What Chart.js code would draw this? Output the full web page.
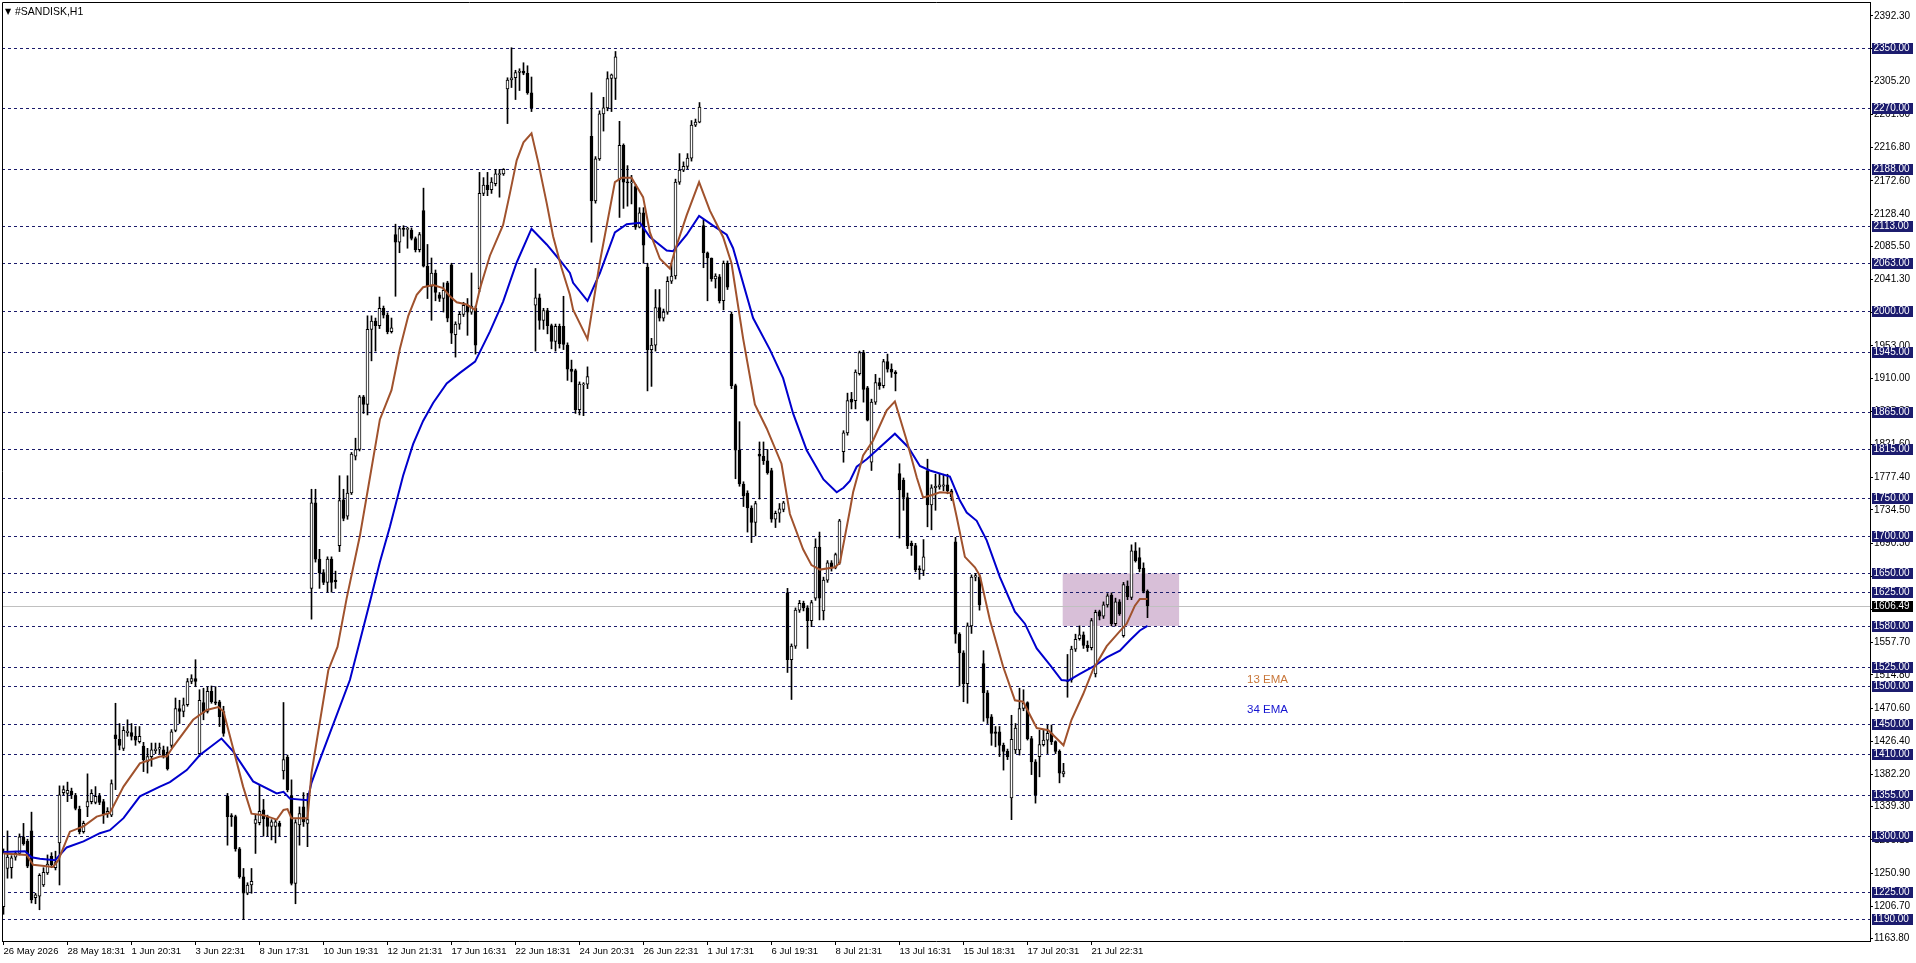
<!DOCTYPE html>
<html>
<head>
<meta charset="utf-8">
<title>#SANDISK,H1</title>
<script src="https://cdn.jsdelivr.net/npm/chart.js@4.4.1/dist/chart.umd.min.js"></script>
<style>
  html, body { margin: 0; padding: 0; background: #fff; }
  canvas { display: block; }
</style>
</head>
<body>
<canvas id="chart" width="1916" height="963"></canvas>
<script>
const symbolTitle = "#SANDISK,H1";

const openPrices = [
  1206,1257,1258,1272,1277,1299,1293,   1307,1218,1220,1235,1251,1273,1258,
  1291,1358,1357,1360,1354,1336,1306,   1339,1346,1345,1353,1346,1330,1328,
  1435,1429,1417,1438,1438,1433,1426,   1420,1399,1406,1414,1416,1415,1412,
  1421,1441,1470,1466,1475,1506,1510,   1410,1478,1466,1493,1479,1479,1466,
  1353,1327,1326,1283,1246,1224,1235,   1317,1318,1335,1326,1313,1313,1317,
  1387,1405,1353,1237,1315,1339,1317,   1630,1744,1669,1651,1638,1669,1641,
  1687,1748,1726,1757,1806,1815,1885,   1875,1975,1986,1980,2003,1994,1972,
  2101,2091,2109,2108,2107,2096,2081,   2133,2059,2032,2050,2021,2016,2037,
  2061,1968,1982,1995,2007,1998,2003,   2029,2156,2167,2161,2169,2181,2182,
  2295,2307,2310,2317,2319,2316,2290,   2007,2017,1987,2000,1980,1959,1979,
  1979,1954,1922,1920,1868,1901,1902,   2232,2146,2202,2262,2270,2309,2309,
  2174,2220,2171,2170,2165,2111,2130,   2058,1948,1954,2004,1990,1998,2039,
  2046,2171,2187,2192,2203,2247,2251,   2113,2077,2070,2042,2045,2013,2063,
  1995,1900,1814,1769,1757,1737,1718,   1809,1806,1800,1787,1722,1730,1735,
  1624,1535,1553,1601,1610,1604,1587,   1617,1685,1600,1641,1664,1658,1664,
  1812,1837,1882,1880,1916,1944,1897,   1798,1878,1904,1900,1932,1922,1918,
  1783,1774,1751,1690,1687,1656,1654,   1787,1741,1764,1765,1766,1768,1760,
  1692,1569,1544,1503,1580,1645,1645,   1530,1491,1459,1439,1439,1421,1413,
  1351,1415,1415,1470,1478,1430,1399,   1406,1422,1428,1437,1426,1413,1383,
  1506,1508,1549,1563,1568,1554,1551,   1516,1599,1593,1608,1621,1583,1612,
  1567,1633,1618,1680,1671,1657,1626
];
const highPrices = [
  1283,1307,1274,1280,1303,1317,1296,   1332,1224,1250,1258,1275,1278,1280,
  1367,1367,1372,1364,1357,1340,1320,   1383,1362,1366,1357,1349,1338,1375,
  1477,1450,1446,1455,1450,1446,1446,   1425,1417,1424,1424,1424,1420,1419,
  1442,1484,1481,1484,1510,1515,1535,   1495,1497,1499,1500,1499,1481,1473,
  1357,1330,1328,1285,1257,1238,1257,   1328,1368,1349,1328,1322,1322,1320,
  1478,1408,1375,1322,1339,1358,1357,   1762,1762,1682,1655,1672,1672,1653,
  1780,1762,1780,1811,1830,1887,1887,   1993,1993,1990,2018,2006,1997,1990,
  2115,2111,2113,2111,2110,2098,2104,   2163,2088,2070,2054,2024,2037,2039,
  2063,1985,1998,2011,2016,2050,2006,   2184,2177,2184,2177,2188,2188,2189,
  2310,2350,2320,2322,2330,2326,2311,   2056,2022,2003,2003,1982,1982,1982,
  2019,1957,1934,1922,1905,1904,1925,   2290,2205,2266,2284,2318,2315,2345,
  2252,2222,2193,2180,2168,2137,2137,   2063,1963,2028,2028,2002,2045,2063,
  2175,2209,2198,2209,2253,2255,2277,   2121,2078,2070,2049,2048,2066,2066,
  1998,1902,1852,1772,1760,1740,1746,   1825,1825,1815,1790,1733,1743,1746,
  1630,1556,1604,1614,1613,1607,1614,   1696,1705,1645,1667,1667,1677,1722,
  1840,1890,1891,1921,1946,1947,1899,   1882,1915,1910,1935,1942,1929,1920,
  1796,1777,1757,1693,1690,1660,1695,   1802,1768,1782,1783,1782,1782,1762,
  1698,1571,1547,1584,1648,1650,1648,   1547,1494,1462,1446,1446,1424,1416,
  1461,1450,1497,1495,1479,1433,1402,   1441,1441,1448,1448,1427,1415,1397,
  1542,1553,1569,1580,1572,1560,1590,   1601,1601,1612,1623,1624,1617,1615,
  1638,1640,1688,1691,1684,1664,1628
];
const lowPrices = [
  1196,1244,1244,1268,1275,1288,1258,   1211,1210,1202,1233,1249,1258,1255,
  1235,1355,1346,1350,1335,1303,1304,   1326,1343,1343,1342,1317,1325,1326,
  1362,1415,1414,1433,1428,1421,1424,   1386,1384,1393,1410,1410,1404,1388,
  1418,1439,1450,1459,1473,1503,1499,   1406,1455,1464,1477,1475,1446,1433,
  1288,1313,1280,1244,1189,1222,1224,   1277,1315,1300,1300,1295,1291,1300,
  1376,1359,1235,1210,1288,1313,1286,   1589,1665,1630,1635,1625,1625,1630,
  1679,1720,1722,1755,1801,1813,1863,   1861,1933,1946,1976,1990,1969,1970,
  2019,2077,2099,2083,2094,2078,2078,   2058,2016,1987,2013,2012,1998,1985,
  1956,1938,1975,1992,1967,1995,1942,   2025,2153,2153,2156,2166,2151,2180,
  2249,2297,2281,2293,2314,2288,2265,   1946,1975,1975,1969,1949,1946,1950,
  1948,1907,1905,1863,1861,1860,1896,   2091,2143,2200,2239,2266,2265,2281,
  2124,2136,2139,2142,2108,2110,2063,   1893,1899,1946,1986,1986,1995,2036,
  2042,2168,2185,2189,2199,2245,2250,   2057,2013,2039,2030,2010,2001,2028,
  1896,1776,1766,1739,1705,1691,1700,   1749,1795,1782,1718,1711,1718,1732,
  1518,1482,1550,1598,1600,1550,1579,   1614,1588,1588,1638,1653,1656,1662,
  1798,1834,1869,1869,1914,1878,1853,   1787,1875,1895,1897,1918,1911,1893,
  1697,1734,1683,1674,1652,1642,1647,   1712,1708,1734,1762,1760,1756,1747,
  1557,1500,1479,1477,1570,1640,1601,   1453,1450,1421,1419,1406,1388,1402,
  1322,1410,1408,1467,1428,1382,1344,   1379,1420,1410,1422,1410,1371,1379,
  1485,1505,1546,1561,1550,1546,1548,   1512,1588,1590,1605,1580,1580,1594,
  1565,1615,1615,1665,1652,1624,1591
];
const closePrices = [
  1278,1272,1271,1277,1299,1290,1260,   1215,1222,1248,1252,1263,1262,1265,
  1355,1362,1361,1355,1337,1306,1317,   1346,1357,1353,1345,1330,1333,1370,
  1430,1421,1441,1440,1433,1428,1433,   1402,1406,1415,1416,1418,1406,1390,
  1439,1470,1466,1475,1506,1510,1506,   1481,1464,1493,1479,1477,1459,1437,
  1326,1326,1283,1246,1224,1235,1240,   1322,1333,1323,1313,1319,1319,1313,
  1402,1362,1237,1318,1330,1319,1322,   1744,1669,1651,1638,1669,1638,1639,
  1747,1723,1757,1809,1815,1885,1875,   1975,1986,1980,2003,1994,1972,1977,
  2091,2109,2108,2109,2096,2081,2101,   2059,2032,2050,2024,2016,2027,1990,
  1970,1982,1995,2007,1998,2006,1954,   2156,2167,2161,2171,2182,2182,2188,
  2307,2310,2317,2319,2316,2290,2270,   2017,1987,2000,1980,1959,1979,1956,
  1955,1922,1919,1868,1902,1902,1912,   2146,2202,2262,2270,2309,2314,2338,
  2220,2171,2170,2171,2111,2130,2087,   1948,1954,2004,1990,1998,2039,2046,
  2171,2187,2192,2203,2247,2251,2271,   2077,2070,2042,2046,2013,2063,2031,
  1900,1814,1769,1753,1737,1718,1743,   1806,1800,1784,1722,1730,1736,1744,
  1535,1553,1601,1610,1604,1587,1611,   1685,1617,1641,1664,1658,1675,1720,
  1837,1880,1878,1918,1944,1895,1854,   1878,1904,1900,1932,1922,1918,1916,
  1761,1751,1687,1687,1655,1655,1672,   1741,1764,1766,1768,1768,1760,1752,
  1569,1544,1503,1580,1645,1647,1608,   1491,1457,1437,1437,1421,1413,1406,
  1429,1444,1470,1477,1430,1399,1355,   1422,1428,1437,1426,1413,1384,1386,
  1508,1549,1562,1568,1554,1551,1587,   1598,1593,1608,1620,1583,1612,1596,
  1635,1619,1680,1667,1656,1626,1606.49
];

// 13 EMA / 34 EMA, read at bar positions along the curves
const ema13Bars = [0,5.8,7.4,12.4,13.7,16.6,20,23.3,26.6,30,34.1,39.1,40.8,42.4,47.4,50.8,53.7,55,57.4,59.9,62,65,68.3,70,71,72,76,77,81.2,83.5,85.8,89.1,91.2,94.1,97,99.1,101.2,103.3,104.9,107.4,109.9,111.6,113.3,115.8,117.9,119.1,121.6,124.9,126.6,128.3,130,132,133.7,135.8,137.4,139.5,141.6,142.4,146,149.1,152.85,154.5,157,159.9,161.6,164.1,166.6,167.85,170.8,173.9,176.6,179.9,182,184.9,187.85,190.8,194.5,196.6,199.9,202,204.1,207.85,209.1,211.6,212.4,214.9,217.4,220.8,222.85,225.8,228.3,229.9,232,234.1,237,238.3,240.35,242.85,244.1,246.6,249.9,252.85,254.9,258.3,261.2,263.3,265,267,269.9,272.4,275.8,279.1,280.8,282.85,284.1,286];
const ema13Values = [1277,1275,1262,1259,1268,1306,1313,1326,1331,1366,1397,1406,1406,1419,1455,1468,1472,1466,1417,1366,1330,1328,1322,1335,1336,1324,1324,1384,1521,1552,1617,1700,1765,1855,1894,1949,1993,2021,2031,2034,2030,2019,2011,2008,2001,2029,2073,2114,2156,2200,2224,2236,2197,2143,2099,2057,2021,2001,1962,2065,2171,2177,2177,2151,2104,2069,2056,2080,2127,2171,2133,2098,2063,1963,1875,1843,1796,1729,1682,1661,1655,1658,1664,1734,1758,1807,1827,1867,1879,1827,1778,1751,1754,1758,1757,1725,1672,1658,1647,1588,1526,1481,1479,1444,1441,1430,1421,1455,1489,1522,1553,1573,1583,1607,1616,1616];

const ema34Bars = [0,5.4,7,9.1,12.9,15.8,20,24.1,26.6,30,34.1,39.1,41.6,45.8,49.1,54.5,57.4,62.4,68.3,70,71.6,76,77,79.1,86.6,89.1,91.6,94.1,96.6,99.9,102.4,104.9,107.4,110.8,114.1,117.9,121.6,124.9,128.3,132,135.8,139.1,141.6,142.4,146,149.1,152.85,155.8,159.1,161.6,165.8,167.4,170.8,173.9,177.4,180.8,182.4,187.4,191.6,194.9,197.4,200.8,205,208.3,210,211.6,213.3,215.8,222.85,226.2,229.1,231.6,236.6,239.1,240.8,243.3,245.8,249.1,252.85,255.35,258.3,261.6,264.5,266.2,269.1,272.85,275.8,279.1,281.6,284.1,286];
const ema34Values = [1279,1280,1272,1270,1268,1285,1293,1304,1308,1324,1353,1366,1372,1388,1408,1430,1413,1373,1357,1359,1350,1348,1371,1402,1508,1560,1612,1665,1712,1780,1822,1853,1877,1903,1917,1932,1972,2012,2064,2109,2088,2067,2050,2037,2013,2050,2104,2115,2117,2098,2080,2079,2101,2126,2113,2101,2083,1990,1948,1910,1863,1814,1775,1758,1764,1773,1792,1802,1836,1818,1793,1787,1779,1747,1731,1720,1694,1645,1599,1583,1550,1528,1508,1507,1516,1527,1538,1547,1561,1574,1580];

// horizontal levels drawn on the chart, and the current bid
const levelLines = [2350,2270,2188,2113,2063,2000,1945,1865,1815,1750,1700,1650,1625,1580,1525,1500,1450,1410,1355,1300,1225,1190];
const lastPrice = 1606.49;

// price scale labels and time labels (one every 16 bars)
const yTickValues = [2392.3,2348.7,2305.2,2261.0,2216.8,2172.6,2128.4,2085.5,2041.3,1997.1,1953.0,1910.0,1865.8,1821.6,1777.4,1734.5,1690.3,1646.1,1601.9,1557.7,1514.8,1470.6,1426.4,1382.2,1339.3,1295.1,1250.9,1206.7,1163.8];
const xTickBars = [0,16,32,48,64,80,96,112,128,144,160,176,192,208,224,240,256,272];
const xTickLabels = ["26 May 2026","28 May 18:31","1 Jun 20:31","3 Jun 22:31","8 Jun 17:31","10 Jun 19:31","12 Jun 21:31","17 Jun 16:31","22 Jun 18:31","24 Jun 20:31","26 Jun 22:31","1 Jul 17:31","6 Jul 19:31","8 Jul 21:31","13 Jul 16:31","15 Jul 18:31","17 Jul 20:31","21 Jul 22:31"];

// shaded zone (bars / prices)
const zoneBars = [264.8, 293.9];
const zonePrices = [1580, 1650];

const FONT = "'Liberation Sans', Arial, sans-serif";

// background pieces: zone, bid line, dashed levels
const backdrop = {
  id: 'backdrop',
  beforeDatasetsDraw(chart) {
    const { ctx, chartArea: a, scales: { x, y } } = chart;
    ctx.save();
    ctx.beginPath();
    ctx.rect(a.left, a.top, a.right - a.left, a.bottom - a.top);
    ctx.clip();

    const zx0 = x.getPixelForValue(zoneBars[0]);
    const zx1 = x.getPixelForValue(zoneBars[1]);
    const zy0 = y.getPixelForValue(zonePrices[1]);
    const zy1 = y.getPixelForValue(zonePrices[0]);
    ctx.fillStyle = '#D8BFD8';
    ctx.fillRect(zx0, zy0, zx1 - zx0, zy1 - zy0);

    ctx.lineWidth = 1;
    ctx.strokeStyle = '#C0C0C0';
    const yb = Math.round(y.getPixelForValue(lastPrice)) + 0.5;
    ctx.beginPath();
    ctx.moveTo(a.left, yb);
    ctx.lineTo(a.right, yb);
    ctx.stroke();

    ctx.strokeStyle = '#1B1B6B';
    ctx.setLineDash([3, 3]);
    levelLines.forEach(v => {
      const yy = Math.round(y.getPixelForValue(v)) + 0.5;
      ctx.beginPath();
      ctx.moveTo(a.left, yy);
      ctx.lineTo(a.right, yy);
      ctx.stroke();
    });
    ctx.restore();
  },
  afterDraw(chart) {
    const { ctx, chartArea: a, scales: { x, y } } = chart;
    ctx.save();
    // frame (left + top)
    ctx.strokeStyle = '#000';
    ctx.lineWidth = 1;
    ctx.beginPath();
    ctx.moveTo(a.left + 0.5, a.bottom);
    ctx.lineTo(a.left + 0.5, a.top + 0.5);
    ctx.lineTo(a.right, a.top + 0.5);
    ctx.stroke();

    // price tags for the levels and the bid
    ctx.font = '10px ' + FONT;
    ctx.textBaseline = 'middle';
    ctx.textAlign = 'left';
    const tag = (v, bg) => {
      const yy = Math.round(y.getPixelForValue(v));
      ctx.fillStyle = bg;
      ctx.fillRect(a.right + 2, yy - 5, 41, 11);
      ctx.fillStyle = '#fff';
      ctx.fillText(v.toFixed(2), a.right + 3.5, yy + 0.5);
    };
    levelLines.forEach(v => tag(v, '#1C1C6E'));
    tag(lastPrice, '#000');

    // indicator captions
    ctx.font = '11.5px ' + FONT;
    ctx.fillStyle = '#C8773A';
    ctx.fillText('13 EMA', x.getPixelForValue(310.9), y.getPixelForValue(1508));
    ctx.fillStyle = '#1515D0';
    ctx.fillText('34 EMA', x.getPixelForValue(310.9), y.getPixelForValue(1468));

    // title
    ctx.fillStyle = '#000';
    ctx.font = '8px DejaVu Sans';
    ctx.fillText('\u25BC', 5, 12);
    ctx.font = '10.5px ' + FONT;
    ctx.fillText(symbolTitle, 15, 12);
    ctx.restore();
  }
};

const bodyColors = openPrices.map((o, i) => closePrices[i] >= o ? '#FFFFFF' : '#000000');

new Chart(document.getElementById('chart'), {
  type: 'bar',
  data: {
    datasets: [
      {
        type: 'line', label: '13 EMA',
        data: ema13Bars.map((b, i) => ({ x: b, y: ema13Values[i] })),
        borderColor: '#A0522D', borderWidth: 2, pointRadius: 0, tension: 0, order: 0
      },
      {
        type: 'line', label: '34 EMA',
        data: ema34Bars.map((b, i) => ({ x: b, y: ema34Values[i] })),
        borderColor: '#0000CD', borderWidth: 2, pointRadius: 0, tension: 0, order: 0
      },
      {
        type: 'bar', label: 'body',
        data: openPrices.map((o, i) => ({ x: i, y: [o, closePrices[i]] })),
        backgroundColor: bodyColors, borderColor: '#000', borderWidth: 1,
        borderSkipped: false, barThickness: 3, minBarLength: 1, grouped: false, order: 1
      },
      {
        type: 'bar', label: 'wick',
        data: lowPrices.map((l, i) => ({ x: i, y: [l, highPrices[i]] })),
        backgroundColor: '#000', borderWidth: 0, barThickness: 1, grouped: false, order: 2
      }
    ]
  },
  options: {
    responsive: false,
    animation: false,
    events: [],
    layout: { padding: { left: 2, top: 2, right: 0, bottom: 0 } },
    plugins: { legend: { display: false }, tooltip: { enabled: false } },
    scales: {
      x: {
        type: 'linear', min: -0.375, max: 466.625, offset: false,
        afterBuildTicks: s => { s.ticks = xTickBars.map(v => ({ value: v })); },
        afterFit: s => { s.height = 22; s.paddingLeft = 0; s.paddingRight = 0; },
        grid: { drawOnChartArea: false, drawTicks: true, tickLength: 4, color: '#000', offset: false },
        border: { display: true, color: '#000', width: 1 },
        ticks: {
          autoSkip: false, maxRotation: 0, minRotation: 0, align: 'start', padding: 1,
          color: '#000', font: { family: FONT, size: 9.5 },
          callback: v => xTickLabels[xTickBars.indexOf(v)]
        }
      },
      y: {
        type: 'linear', position: 'right', min: 1160.4, max: 2410.9,
        afterBuildTicks: s => { s.ticks = yTickValues.map(v => ({ value: v })); },
        afterFit: s => { s.width = 46; s.paddingTop = 0; s.paddingBottom = 0; },
        grid: { drawOnChartArea: false, drawTicks: true, tickLength: 3, color: '#000' },
        border: { display: true, color: '#000', width: 1 },
        ticks: {
          autoSkip: false, padding: 1, color: '#000', font: { family: FONT, size: 10 },
          callback: v => v.toFixed(2)
        }
      }
    }
  },
  plugins: [backdrop]
});
</script>
</body>
</html>
